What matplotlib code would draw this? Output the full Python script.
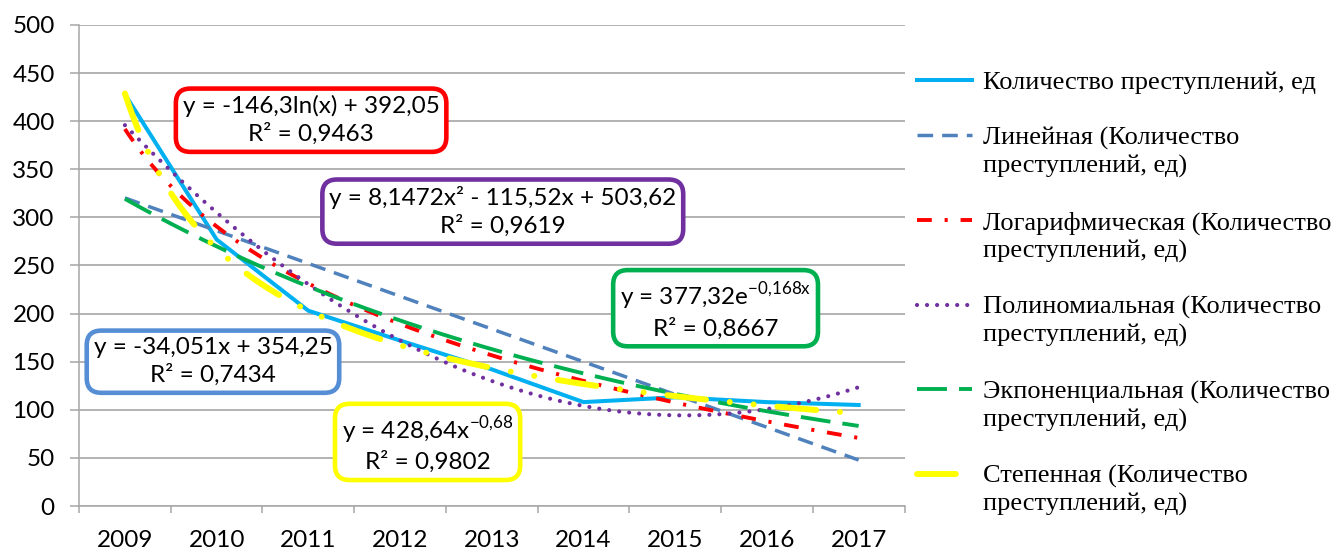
import numpy as np
import matplotlib
matplotlib.use("Agg")
import matplotlib.pyplot as plt
from matplotlib.legend_handler import HandlerLine2D

# crimes per year
years = ["2009", "2010", "2011", "2012", "2013", "2014", "2015", "2016", "2017"]
crimes = [428, 277, 203, 172, 142, 108, 113, 108, 105]

series_label = "Количество преступлений, ед"
trend_names = ["Линейная", "Логарифмическая", "Полиномиальная", "Экпоненциальная", "Степенная"]

# equation labels as printed on the chart
eq_linear = "y = -34,051x + 354,25\nR² = 0,7434"
eq_log = "y = -146,3ln(x) + 392,05\nR² = 0,9463"
eq_poly = "y = 8,1472x² - 115,52x + 503,62\nR² = 0,9619"
eq_exp = "y = 377,32e$^{\\mathrm{-0{,}168x}}$\nR² = 0,8667"
eq_power = "y = 428,64x$^{\\mathrm{-0{,}68}}$\nR² = 0,9802"

plt.rcParams['font.family'] = ['Lato', 'DejaVu Sans']
plt.rcParams['mathtext.fontset'] = 'custom'
plt.rcParams['mathtext.rm'] = 'Lato'

x = np.arange(1, len(years) + 1)
y = np.array(crimes, dtype=float)
xs = np.linspace(1, len(years), 200)

# trendlines fitted the same way Excel does it
lin = np.polyval(np.polyfit(x, y, 1), xs)
lg = np.polyval(np.polyfit(np.log(x), y, 1), np.log(xs))
poly = np.polyval(np.polyfit(x, y, 2), xs)
b, a = np.polyfit(x, np.log(y), 1)
expo = np.exp(a) * np.exp(b * xs)
pb, pa = np.polyfit(np.log(x), np.log(y), 1)
power = np.exp(pa) * xs ** pb

fig = plt.figure(figsize=(13.4, 5.49), dpi=100)
ax = fig.add_axes([0.059, 0.0783, 0.616, 0.8762])

grid_c = '#a6a6a6'
fs = 17.5
h0, = ax.plot(x, y, color='#00b0f0', lw=2.9, solid_joinstyle='miter', zorder=2)
h1, = ax.plot(xs, lin, color='#4f81bd', lw=2.5, dashes=(4.5, 2.6), zorder=3)
h2, = ax.plot(xs, lg, color='#ff0000', lw=2.8, dashes=(3.8, 3.3, 0.8, 3.3), zorder=3)
h3, = ax.plot(xs, poly, color='#7030a0', lw=3.0, dashes=(0.01, 2.4), dash_capstyle='round', zorder=3)
h4, = ax.plot(xs, expo, color='#00b050', lw=2.8, dashes=(7.7, 3.1), zorder=3)
h5, = ax.plot(xs, power, color='#ffff00', lw=4.3, dashes=(6.5, 4, 0.01, 4, 0.01, 4),
              dash_capstyle='round', zorder=3)

ax.set_xlim(0.5, len(years) + 0.5)
ax.set_ylim(0, 500)
ax.set_yticks(np.arange(0, 501, 50))
ax.set_xticks(x)
ax.set_xticklabels(years)
ax.set_xticks(np.arange(0.5, len(years) + 1, 1), minor=True)
ax.tick_params(axis='x', which='major', length=0, pad=17, labelsize=fs)
ax.tick_params(axis='x', which='minor', length=5, width=1.1, color=grid_c)
ax.tick_params(axis='y', length=6.5, width=1.1, color=grid_c, pad=11, labelsize=fs)
ax.yaxis.grid(True, color=grid_c, lw=1.2)
ax.set_axisbelow(True)
for s in ['top', 'right']:
    ax.spines[s].set_visible(False)
for s in ['left', 'bottom']:
    ax.spines[s].set_color(grid_c)
    ax.spines[s].set_linewidth(1.1)

def eq_box(xc, yc, txt, col):
    ax.text(xc, yc, txt, ha='center', va='center', multialignment='center', fontsize=fs,
            linespacing=1.3, zorder=5,
            bbox=dict(boxstyle='round,pad=0.28,rounding_size=0.6', fc='white', ec=col, lw=3.3))

eq_box(3.03, 401, eq_log, '#ff0000')
eq_box(5.12, 306, eq_poly, '#7030a0')
eq_box(1.96, 150, eq_linear, '#558ed5')
eq_box(7.44, 204, eq_exp, '#00b050')
eq_box(4.30, 65, eq_power, '#ffff00')


class FirstLineHandler(HandlerLine2D):
    # put the legend sample next to the first line of a two-line label
    def create_artists(self, legend, orig_handle, xdescent, ydescent, width, height, fontsize, trans):
        arts = super().create_artists(legend, orig_handle, xdescent, ydescent, width, height, fontsize, trans)
        for art in arts:
            art.set_ydata(np.asarray(art.get_ydata(), dtype=float) + 0.62 * fontsize)
        return arts


handles = [h0, h1, h2, h3, h4, h5]
labels = [series_label] + [f"{n} (Количество\nпреступлений, ед)" for n in trend_names]
hmap = {h: FirstLineHandler() for h in handles[1:]}
leg = fig.legend(handles, labels, loc='upper left', bbox_to_anchor=(0.684, 0.872),
                 frameon=False, handlelength=2.1, handletextpad=0.4, labelspacing=1.25,
                 borderpad=0, borderaxespad=0, handler_map=hmap,
                 prop={'family': 'Liberation Serif', 'size': 19})
for t in leg.get_texts():
    t.set_linespacing(1.3)

fig.savefig("out.png", dpi=100)
